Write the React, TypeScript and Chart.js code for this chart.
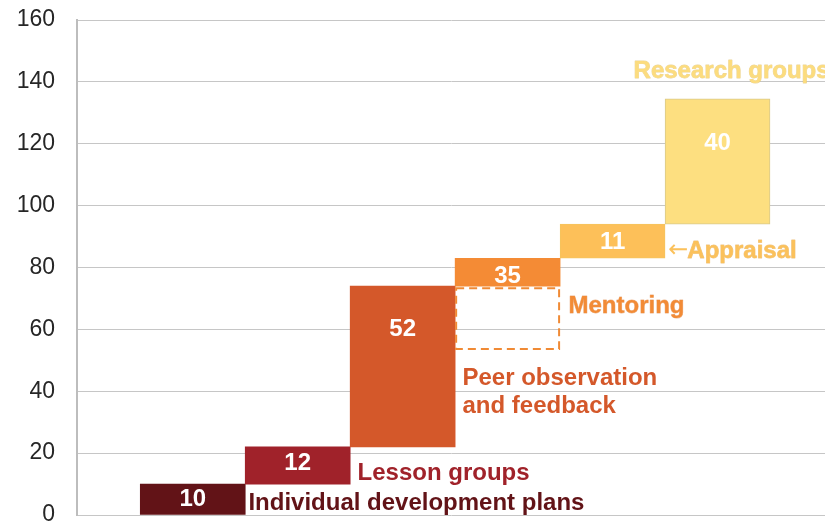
import { useEffect, useRef } from 'react';
import { Chart, registerables } from 'chart.js';

Chart.register(...registerables);

// ---- data ----
const categories = [
  'Individual development plans',
  'Lesson groups',
  'Peer observation and feedback',
  'Mentoring',
  'Appraisal',
  'Research groups',
];
const slotCenters = [1.5, 2.5, 3.5, 4.5, 5.5, 6.5];
const barStart = [0, 10, 22, 74, 83, 94];
const barEnd = [10, 22, 74, 83, 94, 134.5];
const valueLabels = ['10', '12', '52', '35', '11', '40'];
const valueLabelY = [5.5, 17, 60.4, 77.6, 88.5, 120.4];
const nameLines = [
  ['Individual development plans'],
  ['Lesson groups'],
  ['Peer observation', 'and feedback'],
  ['Mentoring'],
  ['Appraisal'],
  ['Research groups'],
];
const namePrefix = ['', '', '', '', '\u2190', ''];
const nameX = [2.03, 3.07, 4.07, 5.08, 6.03, 5.7];
const nameBaselineY = [[1.6], [11.3], [42.0, 32.9], [65.4], [83.0], [141.1]];
const mentoringGhost = [53.3, 73.6];
const mentoringSlot = [4, 5];
const yMin = 0;
const yMax = 160;
const yStep = 20;
const xMin = 0.397;
const xMax = 7.524;

// ---- styles ----
const barColors = ['#621317', '#A0222A', '#D4582A', '#F48B35', '#FDC059', '#FDDF80'];
const barBorderColors = ['#621317', '#A0222A', '#D4582A', '#F48B35', '#F5C45E', '#D9C98A'];
const barBorderWidths = [0, 0, 0, 0, 1, 1];
const textColors = ['#621317', '#A0222A', '#D4582A', '#F28B36', '#FBC15B', '#FCDC7E'];
const textOutline = ['', '', '', 'rgba(220,120,45,0.5)', 'rgba(225,160,60,0.6)', 'rgba(220,185,90,0.6)'];
const FONT = '"Liberation Sans", Arial, Helvetica, sans-serif';

const labelPlugin = {
  id: 'waterfallLabels',
  afterDatasetsDraw(chart: any) {
    const { ctx, scales } = chart;
    const xs = scales.x;
    const ys = scales.y;
    ctx.save();
    // dashed ghost box for mentoring
    ctx.strokeStyle = '#F08A35';
    ctx.lineWidth = 2;
    ctx.setLineDash([8, 5]);
    const gx0 = xs.getPixelForValue(mentoringSlot[0]);
    const gx1 = xs.getPixelForValue(mentoringSlot[1]);
    const gy0 = ys.getPixelForValue(mentoringGhost[1]);
    const gy1 = ys.getPixelForValue(mentoringGhost[0]);
    ctx.strokeRect(gx0 + 1, gy0 + 1, gx1 - gx0 - 2, gy1 - gy0 - 2);
    ctx.setLineDash([]);

    // value labels
    ctx.font = `bold 24px ${FONT}`;
    ctx.fillStyle = '#ffffff';
    ctx.textAlign = 'center';
    ctx.textBaseline = 'middle';
    valueLabels.forEach((t, i) => {
      ctx.fillText(t, xs.getPixelForValue(slotCenters[i]), ys.getPixelForValue(valueLabelY[i]) + 1);
    });

    // category labels
    ctx.textAlign = 'left';
    ctx.textBaseline = 'alphabetic';
    ctx.lineJoin = 'round';
    nameLines.forEach((lines, i) => {
      let x = xs.getPixelForValue(nameX[i]);
      const y0 = ys.getPixelForValue(nameBaselineY[i][0]);
      if (namePrefix[i]) {
        ctx.font = `24px "DejaVu Sans", sans-serif`;
        ctx.fillStyle = textColors[i];
        ctx.fillText(namePrefix[i], x, y0 - 1);
        x += ctx.measureText(namePrefix[i]).width - 1;
      }
      ctx.font = `bold 24px ${FONT}`;
      lines.forEach((line, j) => {
        const y = ys.getPixelForValue(nameBaselineY[i][j]);
        if (textOutline[i]) {
          ctx.strokeStyle = textOutline[i];
          ctx.lineWidth = 0.8;
          ctx.strokeText(line, x, y);
        }
        ctx.fillStyle = textColors[i];
        ctx.fillText(line, x, y);
      });
    });
    ctx.restore();
  },
};

export default function App() {
  const ref = useRef<HTMLCanvasElement>(null);
  useEffect(() => {
    if (!ref.current) return;
    const chart = new Chart(ref.current, {
      type: 'bar',
      data: {
        datasets: [
          {
            label: 'Development',
            data: categories.map((_, i) => ({ x: slotCenters[i], y: [barStart[i], barEnd[i]] })) as any,
            backgroundColor: barColors,
            borderColor: barBorderColors,
            borderWidth: barBorderWidths,
            borderSkipped: false,
            barThickness: 'flex',
            barPercentage: 1,
            categoryPercentage: 1,
          },
        ],
      },
      options: {
        animation: false,
        responsive: true,
        maintainAspectRatio: false,
        layout: { padding: { left: 18, top: 20, bottom: 8, right: 0 } },
        plugins: { legend: { display: false }, tooltip: { enabled: false } },
        scales: {
          x: { type: 'linear', display: false, offset: false, min: xMin, max: xMax },
          y: {
            min: yMin,
            max: yMax,
            ticks: {
              stepSize: yStep,
              color: '#262626',
              padding: 22,
              font: { family: FONT, size: 23, lineHeight: 0.5 },
            },
            grid: { color: '#c6c6c6', lineWidth: 1, drawTicks: false },
            border: { color: '#bdbdbd', width: 2 },
            afterFit: (scale: any) => {
              scale.width = 59;
              scale.paddingTop = 0;
              scale.paddingBottom = 0;
            },
          },
        },
      },
      plugins: [labelPlugin],
    });
    return () => chart.destroy();
  }, []);
  return (
    <div style={{ position: 'fixed', left: 0, top: 0, width: 825, height: 523 }}>
      <canvas ref={ref} />
    </div>
  );
}
